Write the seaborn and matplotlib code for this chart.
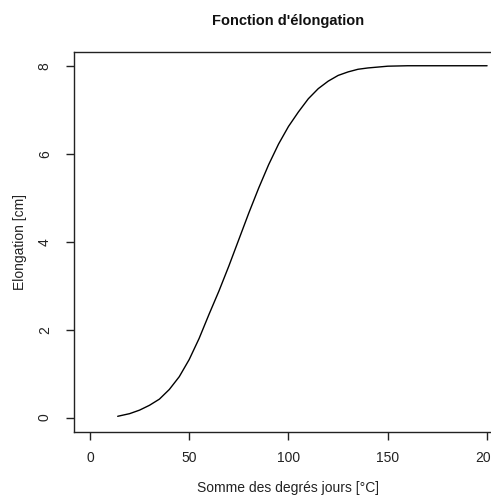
import matplotlib
matplotlib.use("Agg")
import matplotlib.pyplot as plt
import seaborn as sns
import pandas as pd

# Data
degree_days = [14, 20, 25, 30, 35, 40, 45, 50, 55, 60, 65, 70, 75, 80, 85, 90, 95,
               100, 105, 110, 115, 120, 125, 130, 135, 140, 145, 150, 160, 170, 180, 190, 200]
elongation = [0.03, 0.09, 0.17, 0.28, 0.42, 0.64, 0.93, 1.32, 1.80, 2.35, 2.88, 3.45,
              4.05, 4.65, 5.22, 5.75, 6.22, 6.62, 6.95, 7.25, 7.48, 7.65, 7.78, 7.86,
              7.92, 7.95, 7.97, 7.99, 8.0, 8.0, 8.0, 8.0, 8.0]
x_ticks = [0, 50, 100, 150, 200]
y_ticks = [0, 2, 4, 6, 8]

title = "Fonction d'élongation"
x_label = "Somme des degrés jours [°C]"
y_label = "Elongation [cm]"

sns.set_style("ticks")
plt.rcParams['font.family'] = ['Liberation Sans', 'DejaVu Sans']

df = pd.DataFrame({"x": degree_days, "y": elongation})

fig = plt.figure(figsize=(4.91, 4.95), dpi=100)
ax = fig.add_axes([0.1507, 0.1279, 0.8737, 0.7677])

sns.lineplot(data=df, x="x", y="y", ax=ax, color="black", linewidth=1.0)

ax.set_xlim(-8, 208)
ax.set_ylim(-0.32, 8.32)
ax.set_xticks(x_ticks)
ax.set_yticks(y_ticks)
ax.set_xticklabels([str(t) for t in x_ticks], fontsize=10)
ax.set_yticklabels([str(t) for t in y_ticks], fontsize=10, rotation=90, va='center')

for s in ax.spines.values():
    s.set_visible(True)
    s.set_linewidth(1.0)
    s.set_color("#222222")

ax.tick_params(axis='both', direction='out', length=6, width=1.0, color="#222222",
               labelcolor="#222222")
ax.tick_params(axis='x', pad=8)
ax.tick_params(axis='y', pad=10)

ax.set_xlabel(x_label, fontsize=10, color="#222222")
ax.set_ylabel(y_label, fontsize=10, color="#222222")
ax.xaxis.set_label_coords(0.5, -0.148)
ax.xaxis.label.set_va('center')
ax.yaxis.set_label_coords(-0.126, 0.5)
ax.yaxis.label.set_va('center')

fig.text(0.5865, 1 - 21 / 495, title, ha='center', va='center',
         fontsize=10.5, fontweight='bold', color="#111111")

fig.savefig("out.png", dpi=100)
